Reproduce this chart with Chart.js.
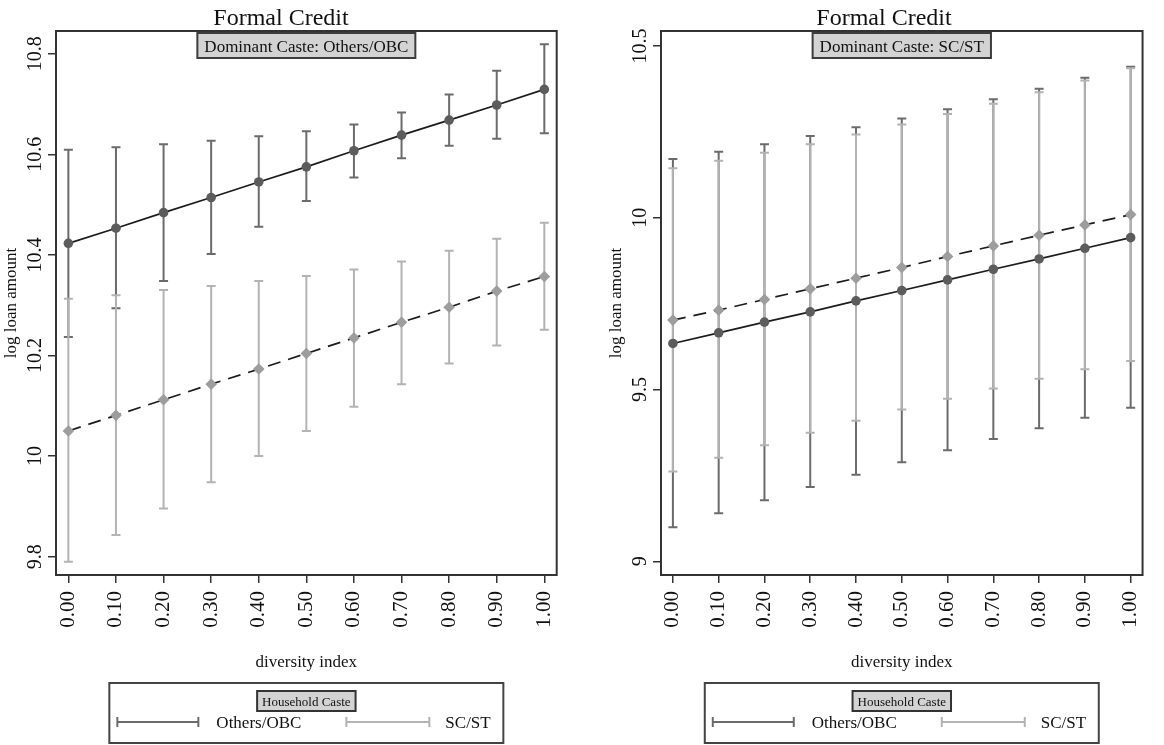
<!DOCTYPE html>
<html>
<head>
<meta charset="utf-8">
<script src="https://cdn.jsdelivr.net/npm/chart.js@4/dist/chart.umd.min.js"></script>
<style>
  html, body { margin: 0; padding: 0; background: #ffffff; }
  #wrap { position: relative; width: 1164px; height: 745px; overflow: hidden; }
  .panel { position: absolute; top: 0; width: 582px; height: 745px; }
  #panelA { left: 0; }
  #panelB { left: 582px; }
</style>
</head>
<body>
<div id="wrap">
  <div class="panel" id="panelA"><canvas id="chartA" width="582" height="745"></canvas></div>
  <div class="panel" id="panelB"><canvas id="chartB" width="582" height="745"></canvas></div>
</div>
<script>
// Diversity index grid and its tick labels
const diversity = [0, 0.1, 0.2, 0.3, 0.4, 0.5, 0.6, 0.7, 0.8, 0.9, 1.0];
const xTickLabels = ['0.00', '0.10', '0.20', '0.30', '0.40', '0.50', '0.60', '0.70', '0.80', '0.90', '1.00'];
const seriesNames = ['Others/OBC', 'SC/ST'];

// Dominant caste: Others/OBC — predicted log loan amount with 95% CI
const othersA    = [10.423, 10.453, 10.484, 10.514, 10.545, 10.575, 10.607, 10.638, 10.668, 10.698, 10.729];
const othersA_lo = [10.237, 10.294, 10.348, 10.402, 10.456, 10.507, 10.554, 10.592, 10.617, 10.631, 10.642];
const othersA_hi = [10.609, 10.614, 10.620, 10.627, 10.636, 10.646, 10.659, 10.683, 10.719, 10.766, 10.819];
const scstA      = [10.050, 10.081, 10.112, 10.143, 10.173, 10.204, 10.235, 10.266, 10.296, 10.328, 10.357];
const scstA_lo   = [9.790, 9.843, 9.896, 9.948, 10.000, 10.050, 10.098, 10.143, 10.184, 10.220, 10.251];
const scstA_hi   = [10.313, 10.320, 10.330, 10.338, 10.348, 10.358, 10.371, 10.387, 10.408, 10.432, 10.464];
const yTicksA      = [9.8, 10, 10.2, 10.4, 10.6, 10.8];
const yTickLabelsA = ['9.8', '10', '10.2', '10.4', '10.6', '10.8'];

// Dominant caste: SC/ST — predicted log loan amount with 95% CI
const othersB    = [9.634, 9.665, 9.696, 9.726, 9.758, 9.788, 9.819, 9.850, 9.880, 9.911, 9.942];
const othersB_lo = [9.099, 9.140, 9.178, 9.216, 9.252, 9.288, 9.323, 9.356, 9.387, 9.418, 9.447];
const othersB_hi = [10.171, 10.192, 10.214, 10.238, 10.263, 10.289, 10.316, 10.345, 10.375, 10.407, 10.439];
const scstB      = [9.702, 9.731, 9.762, 9.793, 9.824, 9.855, 9.887, 9.918, 9.949, 9.979, 10.009];
const scstB_lo   = [9.261, 9.301, 9.338, 9.374, 9.409, 9.442, 9.473, 9.503, 9.531, 9.559, 9.583];
const scstB_hi   = [10.144, 10.166, 10.189, 10.214, 10.242, 10.271, 10.302, 10.332, 10.365, 10.399, 10.435];
const yTicksB      = [9, 9.5, 10, 10.5];
const yTickLabelsB = ['9', '9.5', '10', '10.5'];

const SERIF = '"Liberation Serif", "Times New Roman", serif';
const INK = '#111111';
const CI_DARK = '#6b6b6b';
const CI_LIGHT = '#b3b3b3';

// Draws confidence-interval caps, the plot frame, rotated y labels, titles and the legend
const panelDecor = {
  id: 'panelDecor',
  beforeDatasetsDraw(chart, args, o) {
    const ctx = chart.ctx, xs = chart.scales.x, ys = chart.scales.y;
    ctx.save();
    o.intervals.forEach(iv => {
      ctx.strokeStyle = iv.color;
      ctx.lineWidth = 2;
      diversity.forEach((d, i) => {
        const x = xs.getPixelForValue(d);
        const yl = ys.getPixelForValue(iv.lo[i]);
        const yh = ys.getPixelForValue(iv.hi[i]);
        ctx.beginPath();
        ctx.moveTo(x, yl); ctx.lineTo(x, yh);
        ctx.moveTo(x - 4.5, yl); ctx.lineTo(x + 4.5, yl);
        ctx.moveTo(x - 4.5, yh); ctx.lineTo(x + 4.5, yh);
        ctx.stroke();
      });
    });
    ctx.restore();
  },
  afterDraw(chart, args, o) {
    const ctx = chart.ctx, a = chart.chartArea, ys = chart.scales.y;
    const cx = (a.left + a.right) / 2;
    ctx.save();

    // plot frame
    ctx.strokeStyle = '#333333';
    ctx.lineWidth = 2;
    ctx.strokeRect(a.left, a.top, a.right - a.left, a.bottom - a.top);

    // rotated y tick labels
    ctx.fillStyle = INK;
    ctx.font = '20px ' + SERIF;
    ctx.textAlign = 'center';
    ctx.textBaseline = 'alphabetic';
    o.yTicks.forEach((v, i) => {
      const y = ys.getPixelForValue(v);
      ctx.save();
      ctx.translate(a.left - 15, y);
      ctx.rotate(-Math.PI / 2);
      ctx.fillText(o.yLabels[i], 0, 0);
      ctx.restore();
    });

    // y axis title
    ctx.font = '17px ' + SERIF;
    ctx.save();
    ctx.translate(a.left - 40, (a.top + a.bottom) / 2);
    ctx.rotate(-Math.PI / 2);
    ctx.fillText('log loan amount', 0, 0);
    ctx.restore();

    // x axis title
    ctx.fillText('diversity index', cx, 667);

    // main title
    ctx.font = '24px ' + SERIF;
    ctx.fillText(o.title, o.titleX, 25);

    // subtitle box inside the plot
    ctx.font = '17px ' + SERIF;
    const sw = ctx.measureText(o.subtitle).width + 14;
    ctx.fillStyle = '#d3d3d3';
    ctx.fillRect(cx - sw / 2, a.top + 2, sw, 25);
    ctx.strokeStyle = '#3c3c3c';
    ctx.lineWidth = 2;
    ctx.strokeRect(cx - sw / 2, a.top + 2, sw, 25);
    ctx.fillStyle = INK;
    ctx.fillText(o.subtitle, cx, a.top + 21);

    // legend
    const L = cx - 197, W = 394, top = 683, H = 60;
    ctx.strokeStyle = '#444444';
    ctx.lineWidth = 2;
    ctx.strokeRect(L, top, W, H);
    ctx.font = '13px ' + SERIF;
    const hw = ctx.measureText('Household Caste').width + 10;
    ctx.fillStyle = '#d3d3d3';
    ctx.fillRect(cx - hw / 2, top + 8, hw, 20);
    ctx.strokeStyle = '#333333';
    ctx.strokeRect(cx - hw / 2, top + 8, hw, 20);
    ctx.fillStyle = INK;
    ctx.fillText('Household Caste', cx, top + 23);

    const keys = [
      { x0: L + 8, x1: L + 89, tx: L + 107, color: CI_DARK },
      { x0: L + 237, x1: L + 320, tx: L + 336, color: CI_LIGHT }
    ];
    const ky = top + 39;
    ctx.font = '17px ' + SERIF;
    ctx.textAlign = 'left';
    chart.data.datasets.forEach((ds, i) => {
      const k = keys[i];
      ctx.strokeStyle = k.color;
      ctx.lineWidth = 2;
      ctx.beginPath();
      ctx.moveTo(k.x0, ky); ctx.lineTo(k.x1, ky);
      ctx.moveTo(k.x0, ky - 5); ctx.lineTo(k.x0, ky + 5);
      ctx.moveTo(k.x1, ky - 5); ctx.lineTo(k.x1, ky + 5);
      ctx.stroke();
      ctx.fillStyle = INK;
      ctx.fillText(ds.label, k.tx, ky + 6);
    });
    ctx.restore();
  }
};

function makePanel(canvasId, cfg) {
  const points = vals => diversity.map((d, i) => ({ x: d, y: vals[i] }));
  return new Chart(document.getElementById(canvasId), {
    type: 'line',
    data: {
      datasets: [
        {
          label: seriesNames[0],
          data: points(cfg.others),
          borderColor: '#1c1c1c', borderWidth: 1.7,
          pointStyle: 'circle', pointRadius: 4.8,
          pointBackgroundColor: '#5c5c5c', pointBorderColor: '#5c5c5c', pointBorderWidth: 0,
          tension: 0
        },
        {
          label: seriesNames[1],
          data: points(cfg.scst),
          borderColor: '#1c1c1c', borderWidth: 1.7, borderDash: [13, 8],
          pointStyle: 'rectRot', pointRadius: 5.8,
          pointBackgroundColor: '#9d9d9d', pointBorderColor: '#9d9d9d', pointBorderWidth: 0,
          tension: 0
        }
      ]
    },
    options: {
      responsive: false,
      animation: false,
      events: [],
      layout: { padding: { left: 0, right: cfg.padRight, top: 31, bottom: 0 } },
      plugins: {
        legend: { display: false },
        tooltip: { enabled: false },
        title: { display: false },
        panelDecor: {
          title: 'Formal Credit',
          titleX: cfg.titleX,
          subtitle: cfg.subtitle,
          yTicks: cfg.yTicks,
          yLabels: cfg.yLabels,
          intervals: [
            { lo: cfg.othersLo, hi: cfg.othersHi, color: CI_DARK },
            { lo: cfg.scstLo, hi: cfg.scstHi, color: CI_LIGHT }
          ]
        }
      },
      scales: {
        x: {
          type: 'linear',
          min: -0.026, max: 1.026,
          afterBuildTicks: s => { s.ticks = diversity.map(v => ({ value: v })); },
          afterFit: s => { s.height = 170; },
          ticks: {
            minRotation: 90, maxRotation: 90, padding: 8,
            color: INK,
            font: { family: SERIF, size: 21 },
            callback: (v, i) => xTickLabels[i]
          },
          grid: { drawOnChartArea: false, drawTicks: true, tickLength: 8, color: '#333333', lineWidth: 1.5 },
          border: { display: false }
        },
        y: {
          min: cfg.yMin, max: cfg.yMax,
          afterBuildTicks: s => { s.ticks = cfg.yTicks.map(v => ({ value: v })); },
          afterFit: s => { s.width = cfg.yAxisWidth; },
          ticks: { display: false },
          grid: { drawOnChartArea: false, drawTicks: true, tickLength: 8, color: '#333333', lineWidth: 1.5 },
          border: { display: false }
        }
      }
    },
    plugins: [panelDecor]
  });
}

makePanel('chartA', {
  others: othersA, othersLo: othersA_lo, othersHi: othersA_hi,
  scst: scstA, scstLo: scstA_lo, scstHi: scstA_hi,
  yTicks: yTicksA, yLabels: yTickLabelsA,
  yMin: 9.7636, yMax: 10.8451,
  yAxisWidth: 56, padRight: 25.3,
  titleX: 281,
  subtitle: 'Dominant Caste: Others/OBC'
});

makePanel('chartB', {
  others: othersB, othersLo: othersB_lo, othersHi: othersB_hi,
  scst: scstB, scstLo: scstB_lo, scstHi: scstB_hi,
  yTicks: yTicksB, yLabels: yTickLabelsB,
  yMin: 8.9601, yMax: 10.5434,
  yAxisWidth: 79, padRight: 2.3,
  titleX: 302,
  subtitle: 'Dominant Caste: SC/ST'
});
</script>
</body>
</html>
